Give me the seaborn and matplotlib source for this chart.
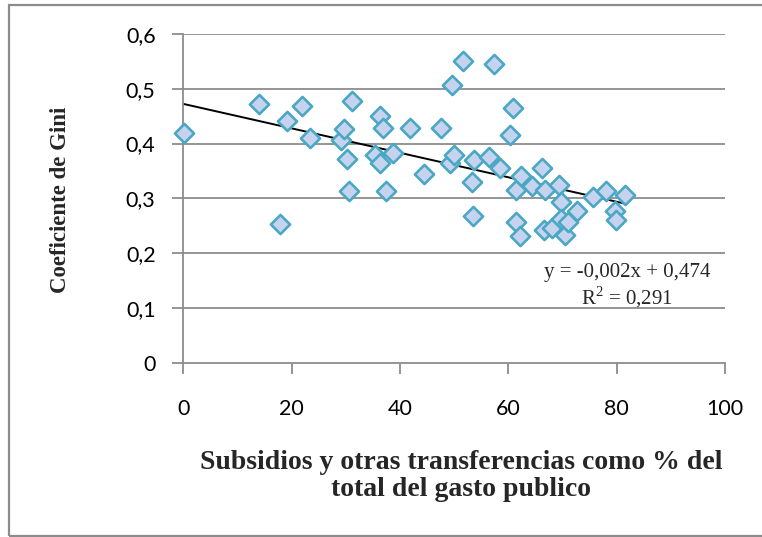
import numpy as np
import pandas as pd
import matplotlib
matplotlib.use("Agg")
import matplotlib.pyplot as plt
import seaborn as sns
from matplotlib.patches import Rectangle

subsidios = [0.1, 13.9, 17.9, 19.2, 22.0, 23.4, 29.2, 29.7, 30.2, 30.6, 31.1,
             35.4, 36.3, 36.4, 36.8, 37.4, 38.8, 41.9, 44.5, 47.5, 49.2, 49.6,
             49.9, 51.7, 53.3, 53.4, 53.6, 56.5, 57.4, 58.5, 60.3, 60.8, 61.4,
             61.4, 62.2, 62.4, 64.3, 66.2, 66.6, 66.8, 68.0, 69.4, 69.7, 69.8,
             70.4, 71.0, 72.6, 75.7, 78.1, 79.7, 79.9, 81.6]
gini = [0.420, 0.473, 0.253, 0.441, 0.469, 0.411, 0.406, 0.426, 0.371, 0.313,
        0.478, 0.380, 0.365, 0.451, 0.428, 0.313, 0.383, 0.428, 0.344, 0.429,
        0.364, 0.506, 0.379, 0.550, 0.329, 0.268, 0.370, 0.376, 0.546, 0.355,
        0.416, 0.465, 0.315, 0.257, 0.231, 0.340, 0.323, 0.356, 0.242, 0.316,
        0.246, 0.325, 0.293, 0.263, 0.234, 0.257, 0.276, 0.303, 0.314, 0.277,
        0.261, 0.306]
x_ticks = [0, 20, 40, 60, 80, 100]
x_tick_labels = ["0", "20", "40", "60", "80", "100"]
y_ticks = [0, 0.1, 0.2, 0.3, 0.4, 0.5, 0.6]
y_tick_labels = ["0", "0,1", "0,2", "0,3", "0,4", "0,5", "0,6"]
eq_text = "y = -0,002x + 0,474"
r2_text = "R$^2$ = 0,291"
x_label = "Subsidios y otras transferencias como % del\ntotal del gasto publico"
y_label = "Coeficiente de Gini"

df = pd.DataFrame({"x": subsidios, "y": gini})

sns.set_style("white")
plt.rcParams["font.family"] = ["Lato", "DejaVu Sans"]
plt.rcParams["mathtext.fontset"] = "custom"
plt.rcParams["mathtext.rm"] = "Liberation Serif"

fig = plt.figure(figsize=(7.62, 5.37), dpi=100)
ax = fig.add_axes([183.3 / 762, 1 - 362.7 / 537, (725 - 183.3) / 762, (362.7 - 34) / 537])

grid_c = "#8c8c8c"
for yt in y_ticks[1:]:
    ax.axhline(yt, color=grid_c, lw=1.3, zorder=0)

sns.regplot(data=df, x="x", y="y", scatter=False, ci=None, truncate=True,
            color="black", line_kws={"lw": 1.4, "zorder": 2}, ax=ax)
sns.scatterplot(data=df, x="x", y="y", marker="D", s=95, color="#c5d3ef",
                edgecolor="#4aa8c4", linewidth=1.9, zorder=3, ax=ax,
                clip_on=False)

ax.set_xlim(0, 100)
ax.set_ylim(0, 0.6)
ax.set_xticks(x_ticks)
ax.set_xticklabels(x_tick_labels)
ax.set_yticks(y_ticks)
ax.set_yticklabels(y_tick_labels)
ax.tick_params(axis="both", which="major", direction="out", length=8, width=1.3,
               color=grid_c, labelsize=15.5, labelcolor="black",
               bottom=True, left=True)
ax.tick_params(axis="x", pad=18)
ax.tick_params(axis="y", pad=12)
for side in ["top", "right"]:
    ax.spines[side].set_visible(False)
for side in ["left", "bottom"]:
    ax.spines[side].set_color(grid_c)
    ax.spines[side].set_linewidth(1.3)
ax.set_xlabel("")
ax.set_ylabel("")

fig.text(461 / 762, 1 - 476 / 537, x_label, ha="center", va="center",
         fontsize=20, fontweight="bold", family="Liberation Serif",
         linespacing=1.12)
fig.text(60 / 762, 1 - 200 / 537, y_label, ha="center", va="center",
         rotation=90, fontsize=16.5, fontweight="bold", family="Liberation Serif")

fig.text(627 / 762, 1 - 272 / 537, eq_text, ha="center", va="center",
         fontsize=15, family="Liberation Serif")
fig.text(627 / 762, 1 - 297 / 537, r2_text, ha="center", va="center",
         fontsize=15, family="Liberation Serif")

fig.patches.append(Rectangle((9 / 762, 1 - 536 / 537), 1.0, 531 / 537,
                             transform=fig.transFigure, fill=False,
                             edgecolor="#8c8c8c", lw=1.6))

fig.savefig("out.png", dpi=100)
